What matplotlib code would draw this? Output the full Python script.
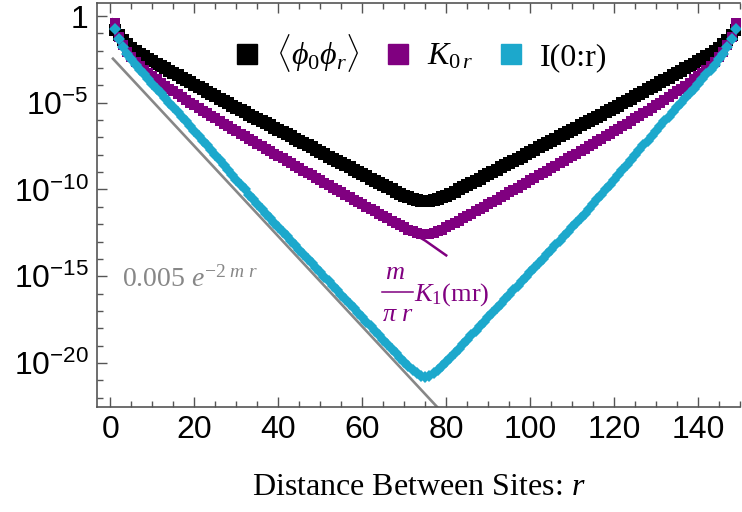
import numpy as np
import matplotlib
matplotlib.use('Agg')
import matplotlib.pyplot as plt
from matplotlib.lines import Line2D
from matplotlib.ticker import FixedLocator, MultipleLocator, NullFormatter

plt.rcParams['mathtext.fontset'] = 'custom'
plt.rcParams['mathtext.rm'] = 'Liberation Serif'
plt.rcParams['mathtext.it'] = 'Liberation Serif:italic'
plt.rcParams['mathtext.sf'] = 'Liberation Sans'
plt.rcParams['font.family'] = ['Liberation Sans', 'DejaVu Sans']

# sites r = 1 .. 149 on a periodic chain of 150
sites = np.arange(1, 150)

# log10 values for r = 1 .. 75 (r and 150 - r are equal)
corr_half = [-0.80, -1.12, -1.39, -1.62, -1.82, -2.00, -2.17, -2.32, -2.47, -2.61,
             -2.75, -2.88, -3.01, -3.15, -3.28, -3.42, -3.55, -3.69, -3.82, -3.96,
             -4.09, -4.23, -4.36, -4.49, -4.63, -4.76, -4.89, -5.03, -5.16, -5.29,
             -5.42, -5.56, -5.69, -5.82, -5.95, -6.08, -6.18, -6.31, -6.43, -6.56,
             -6.69, -6.82, -6.94, -7.07, -7.20, -7.33, -7.46, -7.58, -7.71, -7.84,
             -7.97, -8.10, -8.22, -8.35, -8.48, -8.61, -8.73, -8.86, -8.99, -9.12,
             -9.25, -9.37, -9.50, -9.63, -9.76, -9.88, -10.00, -10.12, -10.24, -10.35,
             -10.45, -10.54, -10.61, -10.66, -10.68]
k0r_half = [-0.39, -1.20, -1.68, -2.05, -2.36, -2.63, -2.87, -3.09, -3.29, -3.48,
            -3.66, -3.84, -4.01, -4.18, -4.35, -4.51, -4.67, -4.83, -4.99, -5.14,
            -5.29, -5.45, -5.60, -5.75, -5.90, -6.05, -6.20, -6.35, -6.49, -6.64,
            -6.78, -6.93, -7.07, -7.22, -7.36, -7.50, -7.65, -7.79, -7.93, -8.07,
            -8.21, -8.35, -8.49, -8.63, -8.77, -8.91, -9.05, -9.19, -9.33, -9.47,
            -9.61, -9.75, -9.89, -10.03, -10.17, -10.30, -10.44, -10.58, -10.72, -10.85,
            -10.99, -11.13, -11.26, -11.40, -11.54, -11.67, -11.81, -11.94, -12.07, -12.19,
            -12.31, -12.41, -12.50, -12.56, -12.58]
mi_half = [-0.75, -1.35, -1.80, -2.17, -2.50, -2.80, -3.09, -3.37, -3.65, -3.92,
           -4.19, -4.46, -4.73, -5.00, -5.27, -5.54, -5.81, -6.08, -6.35, -6.62,
           -6.90, -7.18, -7.46, -7.74, -8.02, -8.31, -8.59, -8.87, -9.15, -9.44,
           -9.72, -10.00, -10.29, -10.57, -10.85, -11.13, -11.39, -11.65, -11.91, -12.17,
           -12.43, -12.69, -12.95, -13.21, -13.47, -13.73, -13.99, -14.25, -14.51, -14.77,
           -15.03, -15.29, -15.55, -15.81, -16.07, -16.33, -16.59, -16.85, -17.11, -17.37,
           -17.63, -17.89, -18.15, -18.41, -18.67, -18.93, -19.19, -19.45, -19.70, -19.95,
           -20.19, -20.41, -20.60, -20.74, -20.80]

# m/(pi r) K1(mr) guide line (log10)
k1_r = [0.4, 1, 2, 3, 4, 5, 6, 8, 10, 15, 20, 30, 40, 50, 60, 70, 75, 80]
k1_log = [-0.19, -0.60, -1.20, -1.66, -2.02, -2.33, -2.60, -3.07, -3.47, -4.34,
          -5.13, -6.63, -8.06, -9.46, -10.85, -12.24, -12.95, -13.80]

# 0.005 e^{-2 m r} guide line (log10)
fit_r = [0.6, 80]
fit_log = [-2.46, -23.1]

purple = '#800080'
cyan = '#1ca8cc'
gray = '#878787'


def mirror(half):
    return 10.0 ** np.array(half + half[-2::-1])


fig = plt.figure(figsize=(7.42, 5.12), dpi=100)
ax = fig.add_axes([97 / 742, 1 - 407 / 512, 643 / 742, 404 / 512])
ax.set_yscale('log')

ax.plot(fit_r, 10.0 ** np.array(fit_log), color=gray, lw=1.9, zorder=1)
ax.plot(sites, mirror(corr_half), 's', color='black', ms=8.5, mew=0, zorder=2)
ax.plot(sites, mirror(k0r_half), 's', color=purple, ms=6.5, mew=0, zorder=3)
ax.plot(k1_r, 10.0 ** np.array(k1_log), color=purple, lw=1.8, zorder=4)
ax.plot(sites, mirror(mi_half), 'D', color=cyan, ms=6.5, mew=0, zorder=5)

ax.set_xlim(-3.2, 150)
ax.set_ylim(10 ** -22.54, 10 ** 0.75)

ax.xaxis.set_major_locator(MultipleLocator(20))
ax.xaxis.set_minor_locator(MultipleLocator(5))
ax.yaxis.set_major_locator(FixedLocator([1e0, 1e-5, 1e-10, 1e-15, 1e-20]))
ax.yaxis.set_minor_locator(FixedLocator([10.0 ** -k for k in range(0, 23)]))
ax.yaxis.set_minor_formatter(NullFormatter())
ax.set_yticklabels(['1', r'$\mathsf{10^{-5}}$', r'$\mathsf{10^{-10}}$',
                    r'$\mathsf{10^{-15}}$', r'$\mathsf{10^{-20}}$'])

for s in ['left', 'bottom', 'top']:
    ax.spines[s].set_color('#555555')
    ax.spines[s].set_linewidth(1.2)
ax.spines['right'].set_visible(False)
ax.tick_params(which='both', direction='in', top=True, right=False,
               color='#555555', width=1.0, labelsize=23, pad=6)
ax.tick_params(which='major', length=7)
ax.tick_params(which='minor', length=4)

ax.set_xlabel(r'Distance Between Sites: $r$', family='Liberation Serif',
              fontsize=23, labelpad=20)

ax.text(2.8, 10 ** -15.62, r'$0.005\ e^{-2\ m\ r}$', color=gray, fontsize=20,
        ha='left', va='baseline')

# m / (pi r) K1(mr) label, written as a stacked fraction
ax.text(67.8, 10 ** -14.75, r'$m$', color=purple, fontsize=19, ha='center', va='center')
ax.plot([64.7, 72.0], [10 ** -15.91] * 2, color=purple, lw=1.1)
ax.text(68.4, 10 ** -17.15, r'$\pi\ r$', color=purple, fontsize=19, ha='center', va='center')
ax.text(72.3, 10 ** -16.4, r'$K_1(\mathrm{mr})$', color=purple, fontsize=19,
        ha='left', va='baseline')

handles = [Line2D([], [], ls='', marker='s', ms=15, color='black'),
           Line2D([], [], ls='', marker='s', ms=15, color=purple),
           Line2D([], [], ls='', marker='s', ms=15, color=cyan)]
labels = [r'$\langle \phi_0 \phi_r \rangle$', r'$K_{0\,r}$', 'I(0:r)']
ax.legend(handles, labels, loc='center', bbox_to_anchor=(0.504, 0.876), ncol=3,
          frameon=False, prop={'family': 'Liberation Serif', 'size': 23},
          handlelength=0.8, handletextpad=0.5, columnspacing=0.8, borderpad=0)

fig.savefig('out.png', dpi=100)
